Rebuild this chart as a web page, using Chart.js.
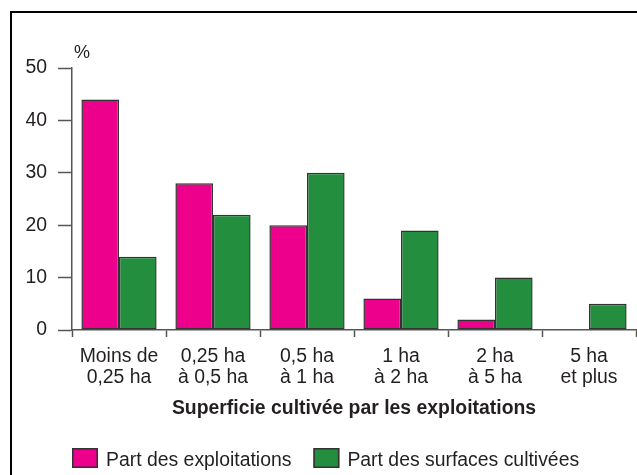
<!DOCTYPE html>
<html>
<head>
<meta charset="utf-8">
<script src="https://cdn.jsdelivr.net/npm/chart.js@4.4.1/dist/chart.umd.min.js"></script>
<style>
    html, body { margin: 0; padding: 0; background: #fff; }
    .wrap { position: relative; width: 637px; height: 475px; overflow: hidden; }
    .frame { position: absolute; left: 10px; top: 11px; width: 700px; height: 600px;
             border-top: 2px solid #000; border-left: 2px solid #000; }
    canvas { position: absolute; left: 0; top: 0; }
</style>
</head>
<body>
<div class="wrap">
    <div class="frame"></div>
    <canvas id="bar_chart" width="637" height="475"></canvas>
</div>
<script>
// data
const categories = [
    ['Moins de', '0,25 ha'],
    ['0,25 ha', 'à 0,5 ha'],
    ['0,5 ha', 'à 1 ha'],
    ['1 ha', 'à 2 ha'],
    ['2 ha', 'à 5 ha'],
    ['5 ha', 'et plus']
];
const partExploitations = [44, 28, 20, 6, 2, 0];
const partSurfaces = [14, 22, 30, 19, 10, 5];
const yTicks = [0, 10, 20, 30, 40, 50];
const seriesNames = ['Part des exploitations', 'Part des surfaces cultivées'];

const fontFamily = '"Liberation Sans", Arial, sans-serif';
const textColor = '#231f20';
const axisColor = '#555555';

// legend, unit label drawn on the canvas
const extrasPlugin = {
    id: 'extras',
    afterDraw(chart) {
        const ctx = chart.ctx;
        const area = chart.chartArea;
        ctx.save();

        // unit
        ctx.fillStyle = textColor;
        ctx.font = '18px ' + fontFamily;
        ctx.textAlign = 'left';
        ctx.textBaseline = 'alphabetic';
        ctx.fillText('%', area.left + 2, area.top - 10);

        // legend
        ctx.font = '19.4px ' + fontFamily;
        ctx.textBaseline = 'middle';
        let x = area.left;
        const boxTop = 448;
        chart.data.datasets.forEach(ds => {
            ctx.fillStyle = ds.backgroundColor;
            ctx.fillRect(x, boxTop, 26, 20);
            ctx.strokeStyle = '#333333';
            ctx.lineWidth = 1.5;
            ctx.strokeRect(x + 0.75, boxTop + 0.75, 24.5, 18.5);
            ctx.fillStyle = textColor;
            ctx.fillText(ds.label, x + 34, boxTop + 13);
            x += 34 + ctx.measureText(ds.label).width + 22;
        });
        ctx.restore();
    }
};

const ctx = document.getElementById('bar_chart').getContext('2d');

new Chart(ctx, {
    type: 'bar',
    data: {
        labels: categories,
        datasets: [{
            label: seriesNames[0],
            data: partExploitations,
            backgroundColor: '#ec008c',
            borderColor: '#333333',
            borderWidth: 1.5,
            borderSkipped: false
        }, {
            label: seriesNames[1],
            data: partSurfaces,
            backgroundColor: '#238e3e',
            borderColor: '#333333',
            borderWidth: 1.5,
            borderSkipped: false
        }]
    },
    options: {
        responsive: false,
        animation: false,
        layout: {
            padding: { left: 0, top: 68, right: 1, bottom: 0 }
        },
        datasets: {
            bar: {
                categoryPercentage: 0.8,
                barPercentage: 1.0
            }
        },
        plugins: {
            legend: { display: false },
            tooltip: { enabled: false }
        },
        scales: {
            x: {
                offset: true,
                afterFit: (scale) => { scale.height = 145; },
                grid: {
                    offset: true,
                    drawOnChartArea: false,
                    drawTicks: true,
                    tickLength: 7,
                    tickColor: axisColor,
                    tickWidth: 1.5
                },
                border: { display: true, color: axisColor, width: 1.5 },
                ticks: {
                    padding: 9,
                    color: textColor,
                    maxRotation: 0,
                    font: { family: fontFamily, size: 19.4, lineHeight: 1.08 }
                },
                title: {
                    display: true,
                    text: 'Superficie cultivée par les exploitations',
                    color: textColor,
                    font: { family: fontFamily, size: 19.4, weight: 'bold', lineHeight: 1.2 },
                    padding: { top: 0, bottom: 55 }
                }
            },
            y: {
                min: 0,
                max: 50,
                afterFit: (scale) => { scale.width = 72; },
                afterBuildTicks: (scale) => {
                    scale.ticks = yTicks.map(v => ({ value: v }));
                },
                grid: {
                    drawOnChartArea: false,
                    drawTicks: true,
                    tickLength: 14,
                    tickColor: axisColor,
                    tickWidth: 1.5
                },
                border: { display: true, color: axisColor, width: 1.5 },
                ticks: {
                    padding: 11,
                    color: textColor,
                    font: { family: fontFamily, size: 19.4 }
                }
            }
        }
    },
    plugins: [extrasPlugin]
});
</script>
</body>
</html>
